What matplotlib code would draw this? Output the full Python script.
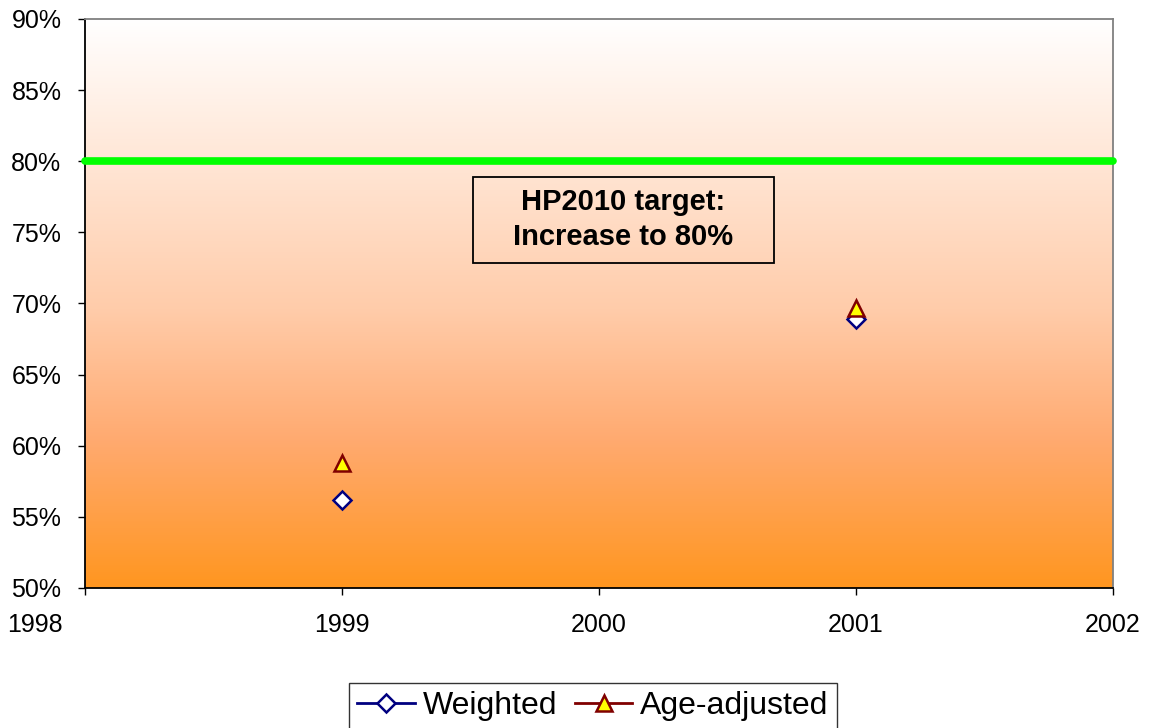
import matplotlib
matplotlib.use('Agg')
import matplotlib.pyplot as plt
import numpy as np
from matplotlib.colors import LinearSegmentedColormap
from matplotlib.lines import Line2D
from matplotlib.patches import Rectangle
from matplotlib.ticker import FuncFormatter
from matplotlib.transforms import ScaledTranslation

plt.rcParams['font.family'] = ['Liberation Sans', 'DejaVu Sans']

# data
years = [1999, 2001]
weighted = [56.2, 68.9]
age_adjusted = [58.8, 69.7]
target = 80
x_ticks = [1998, 1999, 2000, 2001, 2002]
y_ticks = [50, 55, 60, 65, 70, 75, 80, 85, 90]

fig = plt.figure(figsize=(11.53, 7.28), dpi=100)
ax = fig.add_axes([85 / 1153, 1 - 588 / 728, (1113 - 85) / 1153, (588 - 19) / 728])

# background gradient, white at top to orange at bottom
cmap = LinearSegmentedColormap.from_list('bg', [
    (0.0, (1.0, 1.0, 1.0)),
    (0.51, (1.0, 204 / 255, 170 / 255)),
    (0.74, (1.0, 170 / 255, 112 / 255)),
    (1.0, (1.0, 150 / 255, 32 / 255)),
])
grad = np.linspace(0, 1, 256).reshape(-1, 1)
ax.imshow(grad, cmap=cmap, aspect='auto', origin='upper',
          extent=[1998, 2002, 50, 90], zorder=0)

ax.plot([1998, 2002], [target, target], color='#00ff00', lw=5.5,
        solid_capstyle='round', zorder=3, clip_on=False)

ax.plot(years, weighted, linestyle='none', marker='D', ms=9, mfc='white',
        mec='#000080', mew=1.8, zorder=4)
ax.plot(years, age_adjusted, linestyle='none', marker='^', ms=12, mfc='#ffff00',
        mec='#800000', mew=1.8, zorder=5)

# target annotation
ax.add_patch(Rectangle((1999.51, 72.85), 1.17, 6.05, fill=False, ec='black', lw=1.3, zorder=6))
ax.text(2000.095, 75.9, 'HP2010 target:\nIncrease to 80%', ha='center', va='center',
        fontsize=21, fontweight='bold', linespacing=1.3, zorder=7)

ax.set_xlim(1998, 2002)
ax.set_ylim(50, 90)
ax.set_xticks(x_ticks)
ax.set_yticks(y_ticks)
ax.yaxis.set_major_formatter(FuncFormatter(lambda v, p: '%d%%' % v))
ax.tick_params(axis='both', direction='out', length=5, width=1, labelsize=18, colors='black')
ax.tick_params(axis='x', pad=13)
ax.tick_params(axis='y', pad=12)

# first x label sits pushed left, as in the original
first = ax.get_xticklabels()[0]
first.set_transform(first.get_transform() + ScaledTranslation(-0.5, 0, fig.dpi_scale_trans))

ax.spines['left'].set_color('black')
ax.spines['bottom'].set_color('black')
ax.spines['top'].set_color('#808080')
ax.spines['right'].set_color('#808080')
for s in ax.spines.values():
    s.set_linewidth(1.3)

handles = [
    Line2D([], [], color='#000080', lw=2, marker='D', ms=9, mfc='white', mec='#000080', mew=1.8),
    Line2D([], [], color='#800000', lw=2, marker='^', ms=12, mfc='#ffff00', mec='#800000', mew=1.8),
]
leg = fig.legend(handles, ['Weighted', 'Age-adjusted'], loc='upper center',
                 bbox_to_anchor=(593 / 1153, 1 - 683 / 728), ncol=2, fontsize=23,
                 frameon=True, fancybox=False, edgecolor='black', handlelength=1.8,
                 handletextpad=0.25, columnspacing=0.55, borderpad=0.25, borderaxespad=0)
leg.get_frame().set_linewidth(1.0)

fig.savefig('out.png', dpi=100)
